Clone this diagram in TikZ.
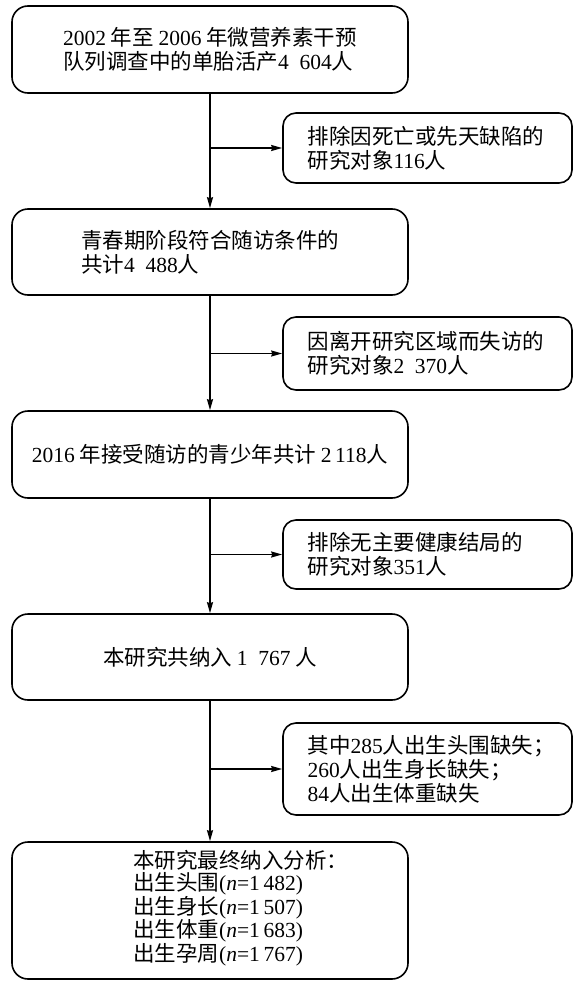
\documentclass[tikz,border=0pt]{standalone}
\usepackage{fontspec}
\setmainfont{Noto Sans CJK SC}
\newfontfamily\latfont{Liberation Serif}
\newcommand{\lat}[1]{{\latfont #1}}
\usetikzlibrary{arrows.meta}
\tikzset{
  mainbox/.style={draw, line width=1.6pt, rounded corners=16pt, minimum width=396pt, align=left},
  sidebox/.style={draw, line width=1.6pt, rounded corners=13pt, minimum width=289pt,
    text width=240pt, inner xsep=24.5pt, align=left},
  arr/.style={line width=1.5pt, -{Stealth[length=11pt,width=6pt,inset=1pt]}}
}
\begin{document}
\begin{tikzpicture}[x=1pt, y=-1pt, font=\fontsize{21.5}{24}\selectfont, line join=round]
\useasboundingbox (0,0) rectangle (582,982);
% main column
\node[mainbox, minimum height=87pt] (b1) at (210,49.5)
  {\lat{2002} 年至 \lat{2006} 年微营养素干预\\队列调查中的单胎活产\lat{4\enspace 604}人};
\node[mainbox, minimum height=86pt] (b2) at (210,252)
  {青春期阶段符合随访条件的\\共计\lat{4\enspace 488}人};
\node[mainbox, minimum height=87pt] (b3) at (210,454.5)
  {\lat{2016} 年接受随访的青少年共计 \lat{2\,118}人};
\node[mainbox, minimum height=86pt] (b4) at (210,657)
  {本研究共纳入 \lat{1\enspace 767} 人};
\node[mainbox, minimum height=137pt] (b5) at (210,910.5) {};
\node[anchor=west, align=left, inner sep=0pt, font=\fontsize{21.5}{22}\selectfont] (b5t) at (133,908)
  {本研究最终纳入分析：\\
   出生头围\lat{(\textit{n}=1\,482)}\\
   出生身长\lat{(\textit{n}=1\,507)}\\
   出生体重\lat{(\textit{n}=1\,683)}\\
   出生孕周\lat{(\textit{n}=1\,767)}};
% exclusions
\node[sidebox, minimum height=70pt] (s1) at (427.5,148)
  {排除因死亡或先天缺陷的\\研究对象\lat{116}人};
\node[sidebox, minimum height=73pt] (s2) at (427.5,353.5)
  {因离开研究区域而失访的\\研究对象\lat{2\enspace 370}人};
\node[sidebox, minimum height=69pt] (s3) at (427.5,554.5)
  {排除无主要健康结局的\\研究对象\lat{351}人};
\node[sidebox, minimum height=92pt] (s4) at (427.5,769)
  {其中\lat{285}人出生头围缺失；\\\lat{260}人出生身长缺失；\\\lat{84}人出生体重缺失};
% arrows
\draw[arr] (b1) -- (b2);
\draw[arr] (b2) -- (b3);
\draw[arr] (b3) -- (b4);
\draw[arr] (b4) -- (b5);
\draw[arr] (b1.south |- s1.west) -- (s1.west);
\draw[arr] (b2.south |- s2.west) -- (s2.west);
\draw[arr] (b3.south |- s3.west) -- (s3.west);
\draw[arr] (b4.south |- s4.west) -- (s4.west);
\end{tikzpicture}
\end{document}
